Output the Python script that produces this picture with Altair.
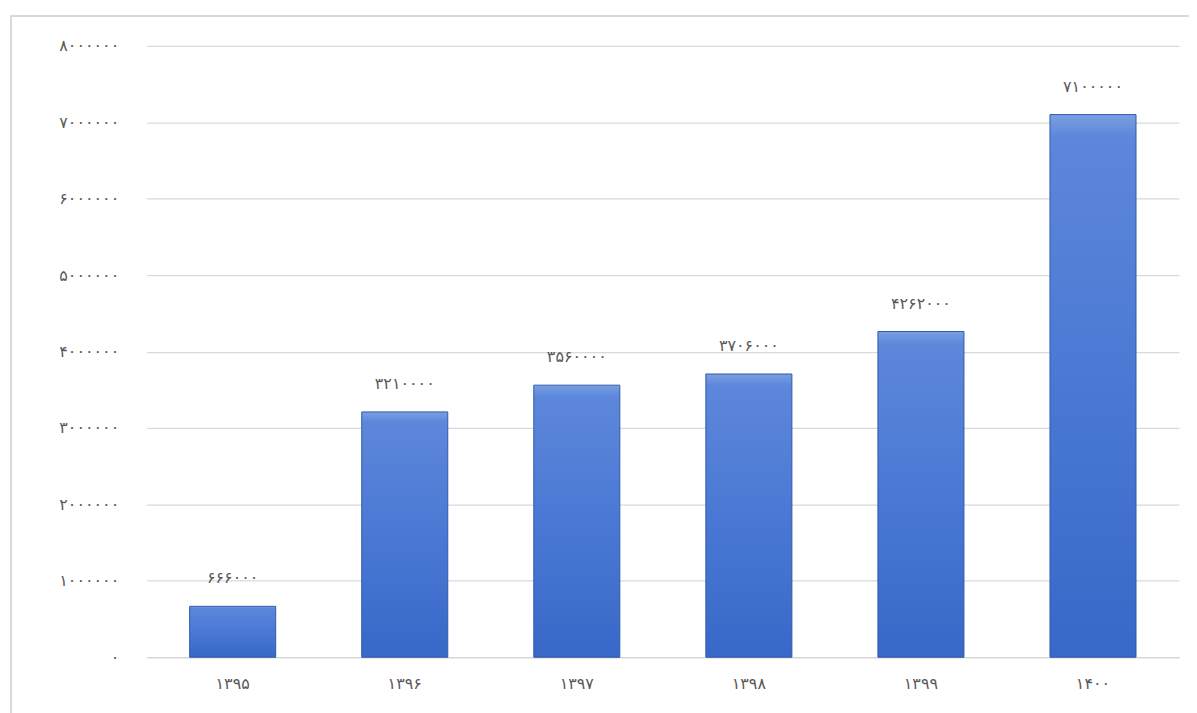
import altair as alt
import pandas as pd

years = ["۱۳۹۵", "۱۳۹۶", "۱۳۹۷", "۱۳۹۸", "۱۳۹۹", "۱۴۰۰"]
values = [666000, 3210000, 3560000, 3706000, 4262000, 7100000]
y_ticks = [0, 1000000, 2000000, 3000000, 4000000, 5000000, 6000000, 7000000, 8000000]

FA = str.maketrans("0123456789", "۰۱۲۳۴۵۶۷۸۹")
df = pd.DataFrame({"year": years, "value": values,
                   "label": [str(v).translate(FA) for v in values]})

label_expr = "datum.label"
for i, d in enumerate("۰۱۲۳۴۵۶۷۸۹"):
    label_expr = f"replace({label_expr}, regexp('{i}', 'g'), '{d}')"

FONT = "DejaVu Sans"
GRAY = "#595959"

base = alt.Chart(df)

x = alt.X("year:N", sort=None, title=None,
          scale=alt.Scale(paddingInner=0.5, paddingOuter=0.25),
          axis=alt.Axis(labelAngle=0, labelFont=FONT, labelFontSize=16, labelColor=GRAY,
                        labelPadding=18, ticks=False, grid=False,
                        domainColor="#d0d0d0", domainWidth=1.2))
y = alt.Y("value:Q", title=None,
          scale=alt.Scale(domain=[0, 8000000], nice=False),
          axis=alt.Axis(values=y_ticks, format="d", labelExpr=label_expr, labelFont=FONT,
                        labelFontSize=16, labelColor=GRAY, labelPadding=28, ticks=False,
                        domain=False, gridColor="#d9d9d9", gridWidth=1.2))

bars = base.mark_bar(
    color=alt.Gradient(gradient="linear", x1=0, y1=0, x2=0, y2=1,
                       stops=[alt.GradientStop(offset=0, color="#7aa0e2"),
                              alt.GradientStop(offset=0.04, color="#5d87da"),
                              alt.GradientStop(offset=0.5, color="#4a78d4"),
                              alt.GradientStop(offset=1, color="#3868c8")]),
    stroke="#2f5aaa", strokeWidth=1
).encode(x=x, y=y)

texts = base.mark_text(baseline="bottom", dy=-20, font=FONT, fontSize=16, color=GRAY).encode(
    x=alt.X("year:N", sort=None), y="value:Q", text="label:N")

frame = alt.Chart(df).mark_rect(fill=None, stroke="#d9d9d9", strokeWidth=1.5).encode(
    x=alt.value(-136), x2=alt.value(1100), y=alt.value(-30), y2=alt.value(700))

chart = alt.layer(frame, bars, texts).properties(
    width=1035, height=613,
    background="white",
    autosize=alt.AutoSizeParams(type="none"),
    padding={"left": 139, "top": 37, "right": 10, "bottom": 60},
).configure_view(stroke=None)

chart.save("out.html", embed_options={"renderer": "svg", "actions": False})
